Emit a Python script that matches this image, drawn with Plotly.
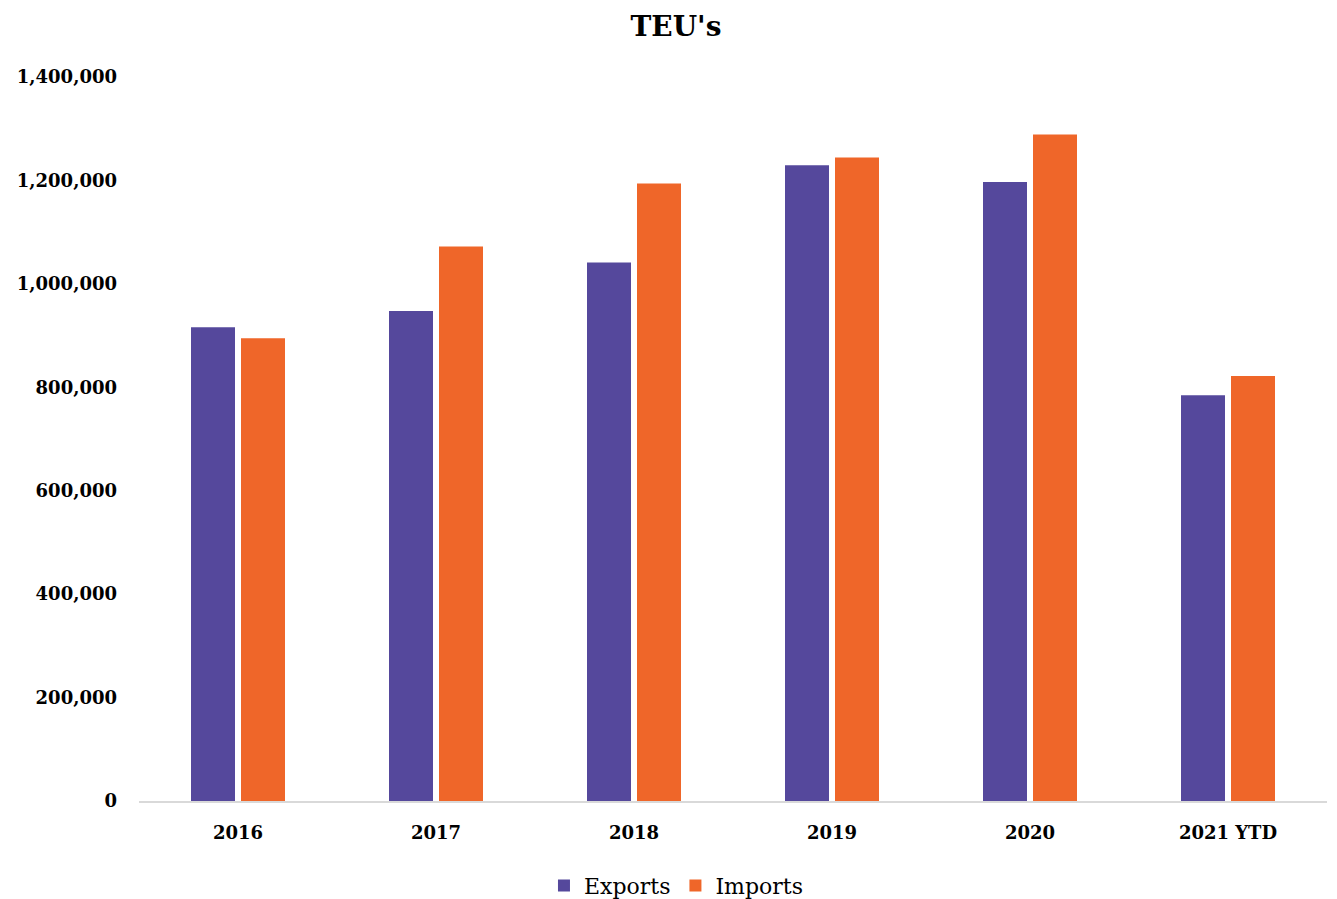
import plotly.graph_objects as go

categories = ["2016", "2017", "2018", "2019", "2020", "2021 YTD"]
exports = [916000, 947500, 1041500, 1229500, 1197200, 784600]
imports = [894700, 1072400, 1194100, 1244300, 1288800, 821900]
y_ticks = [0, 200000, 400000, 600000, 800000, 1000000, 1200000, 1400000]
y_tick_labels = ["0", "200,000", "400,000", "600,000", "800,000", "1,000,000", "1,200,000", "1,400,000"]

FONT = "DejaVu Serif"

fig = go.Figure()
fig.add_trace(go.Bar(name="Exports", x=categories, y=exports,
                     marker=dict(color="#55489C", line=dict(width=0))))
fig.add_trace(go.Bar(name="Imports", x=categories, y=imports,
                     marker=dict(color="#EF6629", line=dict(width=0))))

fig.update_layout(
    width=1329, height=891,
    paper_bgcolor="white", plot_bgcolor="white",
    margin=dict(l=131, r=10, t=69, b=98, autoexpand=False),
    barmode="group", bargap=0.495, bargroupgap=0.12,
    title=dict(text="<b>TEU's</b>", x=0.5026, xanchor="center", y=0.9798, yanchor="middle",
               font=dict(family=FONT, size=28, color="#000000")),
    font=dict(family=FONT, color="#000000"),
    legend=dict(orientation="h", x=0.452, xanchor="center", y=-0.117, yanchor="middle",
                font=dict(family=FONT, size=22, color="#000000"), itemwidth=30,
                traceorder="normal"),
    xaxis=dict(showgrid=False, showline=True, linecolor="#D9D9D9", linewidth=2,
               automargin=False,
               ticks="", tickfont=dict(family=FONT, size=18, color="#000000", weight="bold"),
               ticklabelstandoff=14),
    yaxis=dict(range=[0, 1400000], tickvals=y_ticks, ticktext=y_tick_labels,
               automargin=False,
               showgrid=False, showline=False, zeroline=False, ticks="",
               tickfont=dict(family=FONT, size=18, color="#000000", weight="bold"),
               ticklabelstandoff=21),
)

fig.write_html("out.html")
